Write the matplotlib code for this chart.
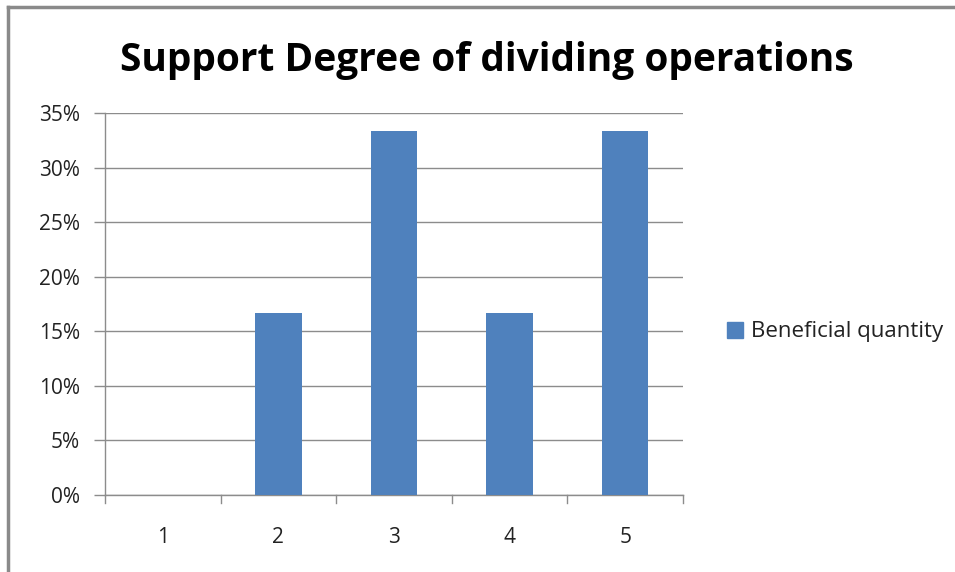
import matplotlib.pyplot as plt
from matplotlib.lines import Line2D
from matplotlib.patches import Patch

# dane wykresu
categories = ["1", "2", "3", "4", "5"]
support = [0.0, 16.67, 33.33, 16.67, 33.33]
series_name = "Beneficial quantity"
y_ticks = [0, 5, 10, 15, 20, 25, 30, 35]

bar_color = "#4F81BD"
grid_color = "#8C8C8C"

plt.rcParams['font.family'] = ['Open Sans', 'DejaVu Sans']

fig = plt.figure(figsize=(9.55, 5.72), dpi=100)
W, H = 955, 572
# obszar wykresu w pikselach: lewo 105, prawo 683, gora 113, dol 495
ax = fig.add_axes([105 / W, 1 - 495 / H, (683 - 105) / W, (495 - 113) / H])

x = list(range(len(categories)))
ax.bar(x, support, width=0.4, color=bar_color, zorder=3, label=series_name)

ax.set_xlim(-0.5, len(categories) - 0.5)
ax.set_ylim(0, 35)
ax.set_yticks(y_ticks)
ax.set_yticklabels([f"{t}%" for t in y_ticks])
ax.set_xticks(x)
ax.set_xticklabels(categories)

# siatka pozioma
ax.grid(axis='y', color=grid_color, linewidth=1.0, zorder=0)
for s in ['top', 'right']:
    ax.spines[s].set_visible(False)
for s in ['left', 'bottom']:
    ax.spines[s].set_color(grid_color)
    ax.spines[s].set_linewidth(1.0)

ax.tick_params(axis='y', length=8, width=1.0, color=grid_color, labelsize=15, pad=10, labelcolor='#222222')
ax.tick_params(axis='x', length=0, labelsize=15, pad=23, labelcolor='#222222')

# znaczniki osi x na granicach kategorii
for b in [i - 0.5 for i in range(len(categories) + 1)]:
    ax.add_line(Line2D([b, b], [0, -0.02], transform=ax.get_xaxis_transform(),
                       color=grid_color, linewidth=1.0, clip_on=False))

fig.text(487 / W, 1 - 60 / H, "Support Degree of dividing operations",
         ha='center', va='center', fontsize=28, fontweight='bold', color='black')

handle = Patch(facecolor=bar_color, edgecolor=bar_color)
fig.legend([handle], [series_name], loc='center left', bbox_to_anchor=(707 / W, 1 - 332 / H),
           frameon=False, fontsize=16, handlelength=0.7, handleheight=0.7, handletextpad=0.4,
           labelcolor='#222222')

# ramka
fig.add_artist(Line2D([8 / W, 8 / W], [0, 1 - 7 / H], transform=fig.transFigure, color='#8A8A8A', linewidth=2.5))
fig.add_artist(Line2D([8 / W, 1], [1 - 7 / H, 1 - 7 / H], transform=fig.transFigure, color='#8A8A8A', linewidth=2.5))

fig.savefig("out.png", dpi=100)
